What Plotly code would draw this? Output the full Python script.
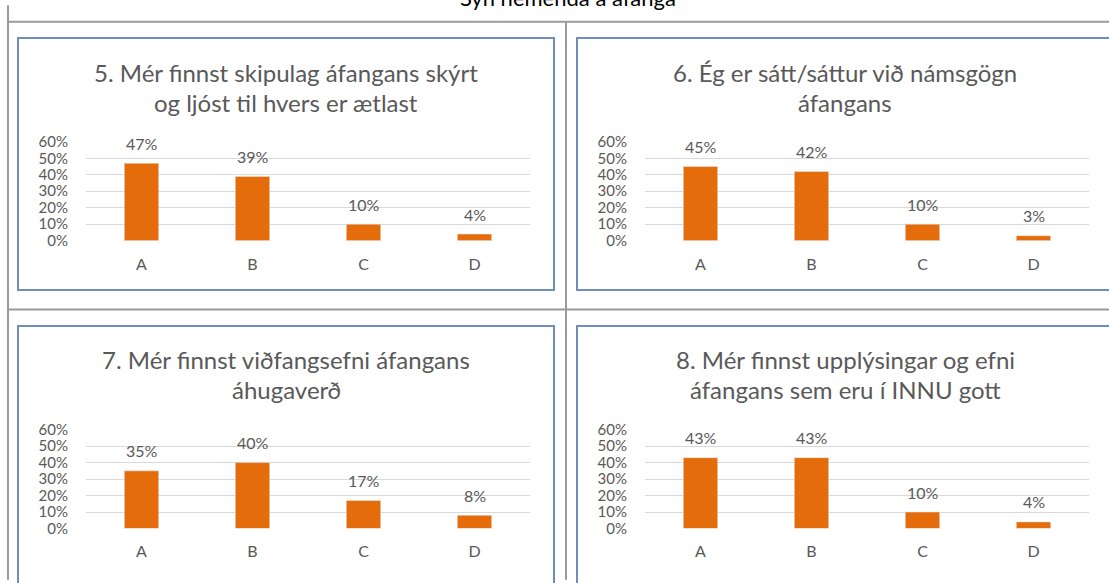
import plotly.graph_objects as go

W, H = 1109, 583

# data
categories = ["A", "B", "C", "D"]
titles = [
    ["5. Mér finnst skipulag áfangans skýrt", "og ljóst til hvers er ætlast"],
    ["6. Ég er sátt/sáttur við námsgögn", "áfangans"],
    ["7. Mér finnst viðfangsefni áfangans", "áhugaverð"],
    ["8. Mér finnst upplýsingar og efni", "áfangans sem eru í INNU gott"],
]
q5 = [0.47, 0.39, 0.10, 0.04]
q6 = [0.45, 0.42, 0.10, 0.03]
q7 = [0.35, 0.40, 0.17, 0.08]
q8 = [0.43, 0.43, 0.10, 0.04]
y_ticks = [0, 0.1, 0.2, 0.3, 0.4, 0.5, 0.6]
heading = "Sýn nemenda á áfanga"

series = [q5, q6, q7, q8]

# top-left corners of the four chart boxes, in pixels (lower ones run past the page edge)
boxes = [(18, 29, 289), (577, 29, 289), (18, 326, 600), (577, 326, 600)]
BOX_W = 536

BAR = "#E46C0A"
GREY = "#595959"
GRID = "#D9D9D9"
FONT = "Lato"


def px(x):
    return x / W


def py(y):
    return 1 - y / H


fig = go.Figure()
shapes = []
annotations = []

for i, (vals, (bx, by, bb)) in enumerate(zip(series, boxes)):
    n = i + 1
    xa = "x" if n == 1 else "x%d" % n
    ya = "y" if n == 1 else "y%d" % n
    fig.add_trace(go.Bar(x=categories, y=vals, marker_color=BAR,
                         xaxis=xa, yaxis=ya, hoverinfo="skip"))

    fig.layout["xaxis" if n == 1 else "xaxis%d" % n] = dict(
        domain=[px(bx + 68), px(bx + 512)], anchor=ya,
        showgrid=False, showline=False, ticks="",
        tickfont=dict(family=FONT, size=16, color=GREY),
        ticklabelstandoff=12, fixedrange=True)
    fig.layout["yaxis" if n == 1 else "yaxis%d" % n] = dict(
        domain=[py(by + 209), py(by + 107)], anchor=xa,
        range=[0, 0.6], tickvals=y_ticks, tickformat=".0%",
        showgrid=True, gridcolor=GRID, gridwidth=1, zeroline=False,
        showline=False, ticks="",
        tickfont=dict(family=FONT, size=15, color=GREY),
        ticklabelstandoff=17, fixedrange=True)

    # value labels above bars
    for c, v in zip(categories, vals):
        annotations.append(dict(x=c, y=v, xref=xa, yref=ya, text="%d%%" % round(v * 100),
                                showarrow=False, yshift=20,
                                font=dict(family=FONT, size=16, color=GREY)))

    # two-line chart title
    for k, line in enumerate(titles[i]):
        annotations.append(dict(x=px(bx + 268), y=py(by + 35 + 31 * k), xref="paper", yref="paper",
                                text=line, showarrow=False, xanchor="center", yanchor="middle",
                                font=dict(family=FONT, size=24, color=GREY)))

    # chart border
    shapes.append(dict(type="rect", xref="paper", yref="paper",
                       x0=px(bx), x1=px(bx + BOX_W), y0=py(bb), y1=py(by),
                       line=dict(color="#6F8DBA", width=2), layer="above"))

# surrounding table lines
table = dict(color="#9A9A9A", width=2)
shapes += [
    dict(type="line", xref="paper", yref="paper", x0=px(8), x1=px(8), y0=py(H + 5), y1=py(-5), line=table),
    dict(type="line", xref="paper", yref="paper", x0=px(566), x1=px(566), y0=py(H + 5), y1=py(12), line=table),
    dict(type="line", xref="paper", yref="paper", x0=px(8), x1=px(W + 5), y0=py(12), y1=py(12), line=table),
    dict(type="line", xref="paper", yref="paper", x0=px(8), x1=px(W + 5), y0=py(309), y1=py(309), line=table),
]

annotations.append(dict(x=px(568), y=py(3), xref="paper", yref="paper", text=heading,
                        showarrow=False, xanchor="center", yanchor="bottom",
                        font=dict(family=FONT, size=22, color="#000000")))

fig.update_layout(width=W, height=H, margin=dict(l=0, r=0, t=0, b=0),
                  paper_bgcolor="white", plot_bgcolor="white",
                  showlegend=False, bargap=0.69,
                  shapes=shapes, annotations=annotations)

# page body has an 8px default margin; drop it so the figure sits at the window corner
fig.write_html("out.html", config={"displayModeBar": False},
               post_script="document.body.style.margin='0';")
